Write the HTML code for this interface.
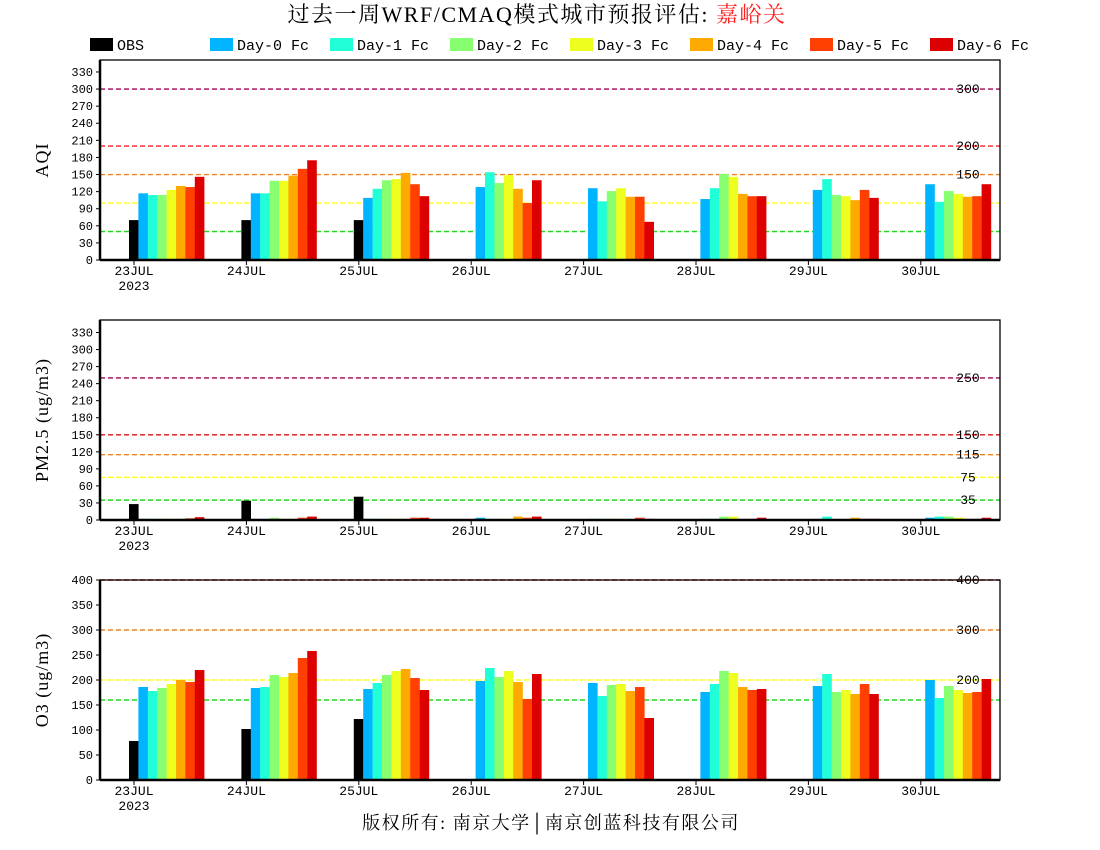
<!DOCTYPE html>
<html><head><meta charset="utf-8"><style>
body{margin:0;background:#fff;width:1100px;height:850px;overflow:hidden}
svg{display:block}
text{font-family:"Liberation Mono","Noto Sans CJK SC",monospace;}
</style></head><body>
<svg id="chart" width="1100" height="850" xmlns="http://www.w3.org/2000/svg">
<text x="537" y="22" text-anchor="middle" font-size="22" letter-spacing="1.5" style="font-family:'Liberation Serif','Noto Serif CJK SC',serif">过去一周WRF/CMAQ模式城市预报评估: <tspan fill="#ff2020">嘉峪关</tspan></text>
<g id="legend"></g>
<g id="panels"></g>
<text x="551" y="829" text-anchor="middle" font-size="18" letter-spacing="1.5" style="font-family:'Liberation Serif','Noto Serif CJK SC',serif">版权所有: 南京大学│南京创蓝科技有限公司</text>
</svg>
<script>
const days = ["23JUL","24JUL","25JUL","26JUL","27JUL","28JUL","29JUL","30JUL"];
const seriesNames = ["OBS","Day-0 Fc","Day-1 Fc","Day-2 Fc","Day-3 Fc","Day-4 Fc","Day-5 Fc","Day-6 Fc"];
const seriesColors = ["#000000","#00b4ff","#20ffd8","#88ff70","#eeff20","#ffaa00","#ff4000","#dd0000"];
// rows: day, columns: series (OBS, Day-0..Day-6); null = missing
const aqiValues = [
 [70,117,114,114,123,130,128,146],
 [70,117,117,139,139,148,160,175],
 [70,109,125,140,142,153,133,112],
 [null,128,154,135,149,125,100,140],
 [null,126,103,121,126,111,111,67],
 [null,107,126,151,146,116,112,112],
 [null,123,142,114,112,105,123,109],
 [null,133,102,121,116,111,112,133]];
const pm25Values = [
 [28,2,2,2,2,2,3,5],
 [34,2,2,4,2,2,4,6],
 [41,2,2,2,2,2,4,4],
 [null,4,2,2,2,6,4,6],
 [null,2,2,2,2,2,4,2],
 [null,2,2,6,6,2,2,4],
 [null,2,6,2,2,4,2,2],
 [null,4,6,6,4,2,2,4]];
const o3Values = [
 [78,186,178,184,192,200,196,220],
 [102,184,186,210,206,214,244,258],
 [122,182,194,210,218,222,204,180],
 [null,198,224,206,218,196,162,212],
 [null,194,168,190,192,178,186,124],
 [null,176,192,218,214,186,180,182],
 [null,188,212,176,180,172,192,172],
 [null,200,164,188,180,174,176,202]];
const aqiTicks = [0,30,60,90,120,150,180,210,240,270,300,330];
const pmTicks = [0,30,60,90,120,150,180,210,240,270,300,330];
const o3Ticks = [0,50,100,150,200,250,300,350,400];
const aqiLines = [[300,"#a00050"],[200,"#ff2020"],[150,"#f08020"],[100,"#ffff20"],[50,"#20dd20"]];
const pmLines = [[250,"#a00050"],[150,"#dd1010"],[115,"#f08020"],[75,"#ffff20"],[35,"#20dd20"]];
const o3Lines = [[400,"#dd1010"],[300,"#f08020"],[200,"#ffff20"],[160,"#20dd20"]];

const NS="http://www.w3.org/2000/svg";
function mk(tag,attrs,parent,txt){const e=document.createElementNS(NS,tag);for(const k in attrs)e.setAttribute(k,attrs[k]);if(txt!==undefined)e.textContent=txt;parent.appendChild(e);return e;}

const lg=document.getElementById('legend');
seriesNames.forEach((n,i)=>{
  const x = i===0?90:210+(i-1)*120;
  const r=mk('rect',{x:x,y:38,width:23,height:13,fill:seriesColors[i]},lg);
  
  
  const t=mk('text',{x:x+27,y:50,'font-size':15},lg,n);
  
  
});

const X0=100,X1=1000;
function xDay(d){return 134+d*112.4;}
function panel(top,vmax,ticks,lines,vals,title,name){
  const g=mk('g',{},document.getElementById('panels'));
  
  
  const bot=top+200;
  const y=v=>bot-v*200/vmax;
  lines.forEach(([v,c])=>{
    const l=mk('line',{x1:X0,x2:X1,y1:y(v),y2:y(v),stroke:c,'stroke-width':1.4,'stroke-dasharray':'5,3'},g);
    
    
    const t=mk('text',{x:968,y:y(v)+4,'font-size':13,'text-anchor':'middle'},g,String(v));
    
    
  });
  vals.forEach((row,d)=>{
    row.forEach((v,s)=>{
      if(v===null)return;
      const r=mk('rect',{x:xDay(d)-5+s*9.4,y:y(v),width:9.6,height:bot-y(v),fill:seriesColors[s]},g);
      
      
    });
  });
  mk('rect',{x:X0,y:top,width:X1-X0,height:200,fill:'none',stroke:'#000','stroke-width':1.3},g);
  mk('line',{x1:X0,x2:X1,y1:bot,y2:bot,stroke:'#000','stroke-width':2.5},g);
  mk('line',{x1:X0,x2:X0,y1:top,y2:bot,stroke:'#000','stroke-width':2.5},g);
  ticks.forEach(v=>{
    mk('line',{x1:X0-4,x2:X0,y1:y(v),y2:y(v),stroke:'#000','stroke-width':1},g);
    const t=mk('text',{x:X0-7,y:y(v)+4,'font-size':12,'text-anchor':'end'},g,String(v));
    
    
  });
  days.forEach((d,i)=>{
    mk('line',{x1:xDay(i),x2:xDay(i),y1:bot,y2:bot+5,stroke:'#000'},g);
    const t=mk('text',{x:xDay(i),y:bot+15,'font-size':13,'text-anchor':'middle'},g,d);
    
    
  });
  const yr=mk('text',{x:xDay(0),y:bot+30,'font-size':13,'text-anchor':'middle'},g,'2023');
  
  
  const yt=mk('text',{x:0,y:0,'font-size':18,'letter-spacing':1,'text-anchor':'middle',transform:`translate(48,${top+100}) rotate(-90)`,style:"font-family:'Liberation Serif',serif"},g,title);
  
  
}
panel(60,351,aqiTicks,aqiLines,aqiValues,'AQI','aqi');
panel(320,352,pmTicks,pmLines,pm25Values,'PM2.5 (ug/m3)','pm25');
panel(580,400,o3Ticks,o3Lines,o3Values,'O3 (ug/m3)','o3');
</script>
</body></html>
